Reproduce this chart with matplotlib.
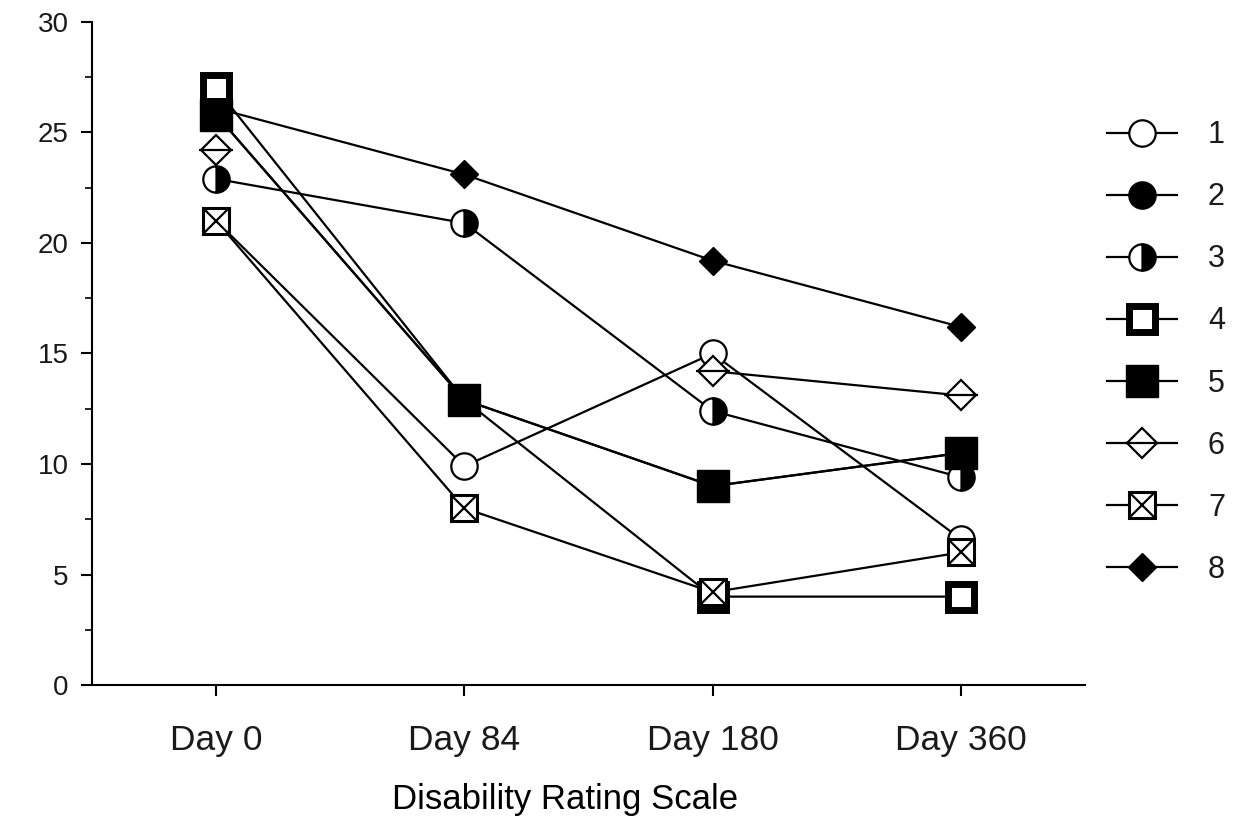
import matplotlib.pyplot as plt
import numpy as np
from matplotlib.legend_handler import HandlerTuple

# Disability Rating Scale per subject at each visit
days = ['Day 0', 'Day 84', 'Day 180', 'Day 360']
subject_1 = [21.0, 9.9, 15.0, 6.6]
subject_2 = [25.8, 12.9, 9.0, 10.5]
subject_3 = [22.9, 20.9, 12.4, 9.4]
subject_4 = [27.0, 12.9, 4.0, 4.0]
subject_5 = [25.8, 12.9, 9.0, 10.5]
subject_6 = [24.2, np.nan, 14.2, 13.1]
subject_7 = [21.0, 8.0, 4.2, 6.0]
subject_8 = [26.1, 23.1, 19.2, 16.2]
labels = ['1', '2', '3', '4', '5', '6', '7', '8']

plt.rcParams['font.family'] = ['Liberation Sans', 'DejaVu Sans']
text_color = '#1a1a1a'

fig = plt.figure(figsize=(12.39, 8.35), dpi=100)
ax = fig.add_axes([0.0743, 0.1796, 0.8014, 0.7941])
x = np.arange(len(days))

base = dict(color='black', linewidth=1.6, markeredgecolor='black')

h1, = ax.plot(x, subject_1, marker='o', ms=19, mfc='white', mew=1.6, zorder=3, **base)
h2, = ax.plot(x, subject_2, marker='o', ms=19, mfc='black', mew=1.6, zorder=3, **base)
h3, = ax.plot(x, subject_3, marker='o', ms=19, fillstyle='right', mfc='black',
              markerfacecoloralt='white', mew=1.6, zorder=3, **base)
h4, = ax.plot(x, subject_4, marker='s', ms=19, mfc='white', mew=5, zorder=3, **base)
h5, = ax.plot(x, subject_5, marker='s', ms=23, mfc='black', mew=1, zorder=3.1, **base)
h6, = ax.plot(x, subject_6, marker='D', ms=15, mfc='white', mew=1.6, zorder=3.2, **base)
h6b, = ax.plot(x, subject_6, ls='none', marker='_', ms=24, mew=1.6, zorder=3.3, **base)
h7, = ax.plot(x, subject_7, marker='s', ms=19, mfc='white', mew=2.2, zorder=3.4, **base)
h7b, = ax.plot(x, subject_7, ls='none', marker='x', ms=19, mew=1.6, zorder=3.5, **base)
h8, = ax.plot(x, subject_8, marker='D', ms=14, mfc='black', mew=1, zorder=2.9, **base)

ax.set_xlim(-0.5, 3.5)
ax.set_ylim(0, 30)
ax.set_xticks(x)
ax.set_xticklabels(days)
ax.set_yticks(range(0, 31, 5))
ax.set_yticks(np.arange(2.5, 30, 5), minor=True)

for side in ['top', 'right']:
    ax.spines[side].set_visible(False)
for side in ['left', 'bottom']:
    ax.spines[side].set_linewidth(1.5)

ax.tick_params(axis='both', which='major', direction='out', length=8, width=1.5,
               labelcolor=text_color)
ax.tick_params(axis='y', which='major', pad=9, labelsize=20)
ax.tick_params(axis='x', which='major', pad=20, labelsize=25.5)
ax.tick_params(axis='y', which='minor', direction='out', length=5, width=1.2)

handles = [h1, h2, h3, h4, h5, (h6, h6b), (h7, h7b), h8]
fig.legend(handles, labels, handler_map={tuple: HandlerTuple(ndivide=1)},
           loc='upper left', bbox_to_anchor=(0.8935, 0.856), bbox_transform=fig.transFigure,
           frameon=False, borderpad=0, borderaxespad=0, fontsize=22,
           handlelength=2.3, handletextpad=1.0, labelspacing=1.05, labelcolor=text_color)

fig.text(0.456, 0.042, 'Disability Rating Scale', ha='center', va='center',
         fontsize=25, color='black')

fig.savefig('out.png', dpi=100)
